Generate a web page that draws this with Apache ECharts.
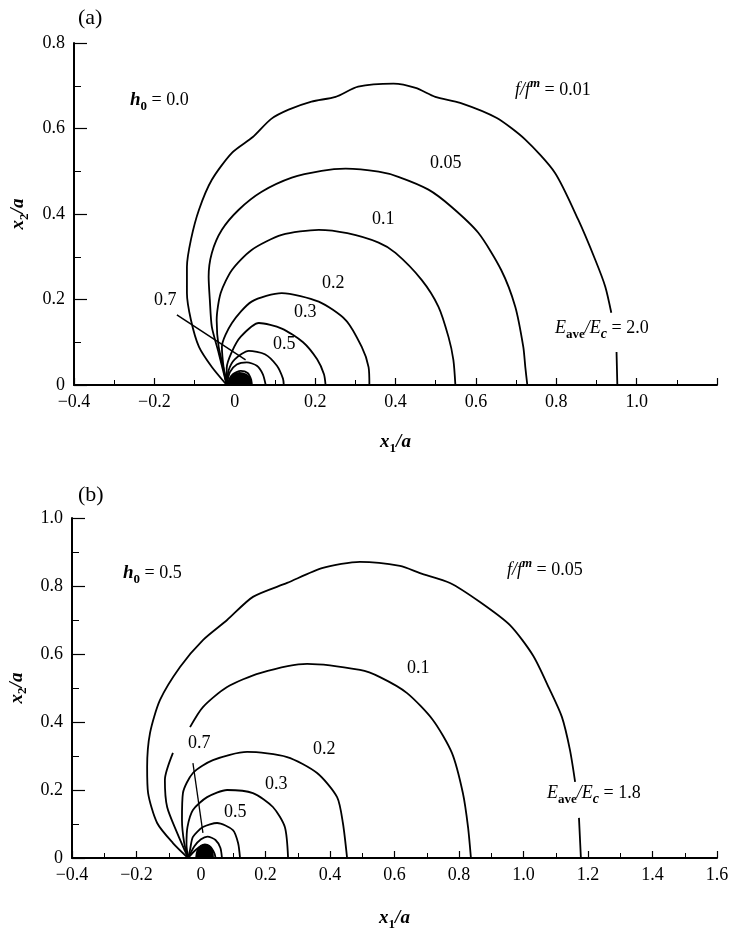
<!DOCTYPE html>
<html>
<head>
<meta charset="utf-8">
<script src="https://cdn.jsdelivr.net/npm/echarts@6/dist/echarts.min.js"></script>
<style>
  html, body { margin: 0; padding: 0; background: #fff; }
  #chart { width: 730px; height: 929px; }
</style>
</head>
<body>
<div id="chart"></div>
<script>
const FONT = '"Liberation Serif", "DejaVu Serif", serif';

// Axis ranges and tick labels
const xTicksA = [-0.4, -0.2, 0, 0.2, 0.4, 0.6, 0.8, 1.0];
const yTicksA = [0, 0.2, 0.4, 0.6, 0.8];
const xTicksB = [-0.4, -0.2, 0, 0.2, 0.4, 0.6, 0.8, 1.0, 1.2, 1.4, 1.6];
const yTicksB = [0, 0.2, 0.4, 0.6, 0.8, 1.0];

// Panel (a): h0 = 0.0, E_ave/E_c = 2.0 — contours of f/f^m in (x1/a, x2/a)
const a_f001 = [[-0.02,0],[-0.057,0.042],[-0.089,0.089],[-0.109,0.152],[-0.119,0.215],[-0.119,0.276],[-0.109,0.34],[-0.089,0.41],[-0.057,0.48],[-0.007,0.543],[0.045,0.58],[0.09,0.622],[0.134,0.644],[0.191,0.663],[0.251,0.674],[0.307,0.698],[0.395,0.705],[0.45,0.695],[0.499,0.674],[0.561,0.66],[0.651,0.625],[0.723,0.574],[0.797,0.496],[0.855,0.386],[0.897,0.293],[0.922,0.23],[0.937,0.169],null,[0.950,0.077],[0.952,0]];
const a_f005 = [[-0.02,0],[-0.04,0.075],[-0.057,0.136],[-0.062,0.199],[-0.065,0.253],[-0.057,0.309],[-0.032,0.363],[0.01,0.41],[0.067,0.452],[0.142,0.485],[0.216,0.501],[0.276,0.506],[0.358,0.499],[0.407,0.487],[0.482,0.457],[0.539,0.417],[0.606,0.356],[0.663,0.269],[0.698,0.183],[0.718,0.089],[0.723,0.042],[0.728,0]];
const a_f01 = [[-0.02,0],[-0.025,0.028],[-0.04,0.089],[-0.045,0.152],[-0.035,0.215],[-0.007,0.269],[0.042,0.316],[0.117,0.351],[0.209,0.363],[0.28,0.355],[0.358,0.333],[0.40,0.309],[0.465,0.246],[0.507,0.183],[0.532,0.112],[0.544,0.059],[0.549,0]];
const a_f02 = [[-0.02,0],[-0.027,0.035],[-0.032,0.089],[-0.007,0.145],[0.042,0.195],[0.117,0.215],[0.209,0.195],[0.276,0.152],[0.316,0.089],[0.333,0.042],[0.335,0]];
const a_f03 = [[-0.02,0],[-0.02,0.04],[-0.007,0.078],[0.015,0.113],[0.06,0.145],[0.117,0.132],[0.17,0.1],[0.205,0.06],[0.222,0.025],[0.226,0]];
const a_f05 = [[-0.02,0],[-0.015,0.035],[0.0,0.06],[0.035,0.08],[0.075,0.072],[0.105,0.045],[0.12,0.015],[0.122,0]];
const a_f07 = [[-0.02,0],[-0.012,0.03],[0.005,0.048],[0.03,0.053],[0.055,0.045],[0.07,0.025],[0.077,0]];
const a_f08 = [[-0.02,0],[-0.005,0.025],[0.015,0.033],[0.032,0.028],[0.041,0.012],[0.042,0]];
const a_core = [[-0.015,0],[-0.012,0.015],[-0.004,0.024],[0.012,0.028],[0.028,0.024],[0.038,0.014],[0.042,0]];
const a_lead07 = [[-0.144,0.164],[0.027,0.059]];

// Panel (b): h0 = 0.5, E_ave/E_c = 1.8
const b_f005 = [[-0.04,0],[-0.087,0.044],[-0.136,0.103],[-0.164,0.191],[-0.167,0.268],[-0.158,0.368],[-0.127,0.465],[-0.065,0.562],[0.006,0.641],[0.081,0.70],[0.161,0.768],[0.267,0.809],[0.378,0.853],[0.493,0.871],[0.617,0.859],[0.679,0.838],[0.772,0.809],[0.865,0.753],[0.958,0.685],[1.03,0.595],[1.08,0.498],[1.119,0.415],[1.144,0.318],[1.16,0.224],null,[1.172,0.118],[1.178,0]];
const b_f01 = [[-0.04,0],[-0.074,0.074],[-0.105,0.15],[-0.112,0.229],[-0.087,0.309],null,[-0.034,0.385],[0.006,0.444],[0.081,0.503],[0.183,0.544],[0.329,0.571],[0.493,0.553],[0.555,0.532],[0.639,0.485],[0.719,0.406],[0.778,0.309],[0.812,0.191],[0.828,0.091],[0.837,0]];
const b_f02 = [[-0.04,0],[-0.052,0.044],[-0.059,0.112],[-0.056,0.191],[-0.025,0.25],[0.037,0.288],[0.143,0.312],[0.267,0.297],[0.36,0.25],[0.422,0.179],[0.44,0.103],[0.453,0]];
const b_f03 = [[-0.04,0],[-0.045,0.04],[-0.042,0.091],[-0.025,0.141],[0.019,0.179],[0.081,0.2],[0.161,0.191],[0.223,0.15],[0.26,0.091],[0.27,0]];
const b_f05 = [[-0.04,0],[-0.034,0.024],[-0.025,0.062],[0.006,0.091],[0.05,0.103],[0.099,0.082],[0.115,0.044],[0.121,0]];
const b_f07 = [[-0.04,0],[-0.02,0.035],[0.0,0.055],[0.02,0.063],[0.045,0.053],[0.06,0.03],[0.065,0]];
const b_f08 = [[-0.04,0],[-0.015,0.025],[0.01,0.038],[0.03,0.032],[0.042,0.013],[0.045,0]];
const b_core = [[-0.015,0],[-0.01,0.025],[0.0,0.036],[0.012,0.04],[0.026,0.035],[0.034,0.022],[0.037,0]];
const b_lead07 = [[-0.025,0.279],[0.006,0.074]];

const rich = {
  i:    { fontFamily: FONT, fontSize: 18, fontStyle: 'italic', color: '#000', lineHeight: 26 },
  ib:   { fontFamily: FONT, fontSize: 19, fontStyle: 'italic', fontWeight: 'bold', color: '#000', lineHeight: 26 },
  n:    { fontFamily: FONT, fontSize: 18, color: '#000', lineHeight: 26 },
  big:  { fontFamily: FONT, fontSize: 22, color: '#000', lineHeight: 26 },
  sub:  { fontFamily: FONT, fontSize: 13, color: '#000', lineHeight: 13, verticalAlign: 'bottom' },
  subb: { fontFamily: FONT, fontSize: 13, fontWeight: 'bold', color: '#000', lineHeight: 13, verticalAlign: 'bottom' },
  subi: { fontFamily: FONT, fontSize: 14, fontStyle: 'italic', fontWeight: 'bold', color: '#000', lineHeight: 13, verticalAlign: 'bottom' },
  sup:  { fontFamily: FONT, fontSize: 13, fontStyle: 'italic', fontWeight: 'bold', color: '#000', lineHeight: 13, verticalAlign: 'top' }
};

function fmt(v) {
  if (Math.abs(v) < 1e-9) return '0';
  return (v < 0 ? '\u2212' : '') + Math.abs(v).toFixed(1);
}

function xAxis(gridIndex, max, shown, nameGap) {
  return {
    type: 'value', gridIndex, min: -0.4, max, interval: 0.2,
    name: '{ib|x}{subb|1}{ib|/a}', nameLocation: 'middle', nameGap,
    nameTextStyle: { rich },
    axisLine: { onZero: false, lineStyle: { color: '#000', width: 2 } },
    axisTick: { inside: true, length: 7, lineStyle: { color: '#000', width: 1.2 } },
    minorTick: { show: true, splitNumber: 2, length: 5, lineStyle: { color: '#000', width: 1 } },
    splitLine: { show: false },
    axisLabel: {
      margin: 8, fontFamily: FONT, fontSize: 18, color: '#000',
      formatter: v => shown.some(t => Math.abs(t - v) < 1e-6) ? fmt(v) : ''
    }
  };
}

function yAxis(gridIndex, max, nameGap) {
  return {
    type: 'value', gridIndex, min: 0, max, interval: 0.2,
    name: '{ib|x}{subb|2}{ib|/a}', nameLocation: 'middle', nameGap, nameRotate: 90,
    nameTextStyle: { rich },
    axisLine: { onZero: false, lineStyle: { color: '#000', width: 2 } },
    axisTick: { inside: true, length: 13, lineStyle: { color: '#000', width: 1.2 } },
    minorTick: { show: true, splitNumber: 2, length: 7, lineStyle: { color: '#000', width: 1 } },
    splitLine: { show: false },
    axisLabel: { margin: 9, fontFamily: FONT, fontSize: 18, color: '#000', formatter: fmt }
  };
}

function curve(data, g, width) {
  return {
    type: 'line', xAxisIndex: g, yAxisIndex: g, data,
    showSymbol: false, smooth: 0.25, connectNulls: false, silent: true,
    lineStyle: { color: '#000', width: width || 1.8 }
  };
}

function core(data, g) {
  return {
    type: 'line', xAxisIndex: g, yAxisIndex: g, data,
    showSymbol: false, smooth: 0.4, silent: true,
    lineStyle: { color: '#000', width: 2 },
    areaStyle: { color: '#000', opacity: 1 }
  };
}

function txt(x, y, text) {
  return {
    type: 'text', x, y, silent: true,
    style: { text, rich, fill: '#000', font: '18px ' + FONT, align: 'left', verticalAlign: 'middle' }
  };
}

const chart = echarts.init(document.getElementById('chart'), null, { renderer: 'canvas' });

chart.setOption({
  backgroundColor: '#fff',
  animation: false,
  grid: [
    { left: 74, top: 43, width: 643, height: 342, outerBoundsMode: 'none', containLabel: false },
    { left: 72, top: 518, width: 645, height: 340, outerBoundsMode: 'none', containLabel: false }
  ],
  xAxis: [xAxis(0, 1.2, xTicksA, 44), xAxis(1, 1.6, xTicksB, 47)],
  yAxis: [yAxis(0, 0.8, 43), yAxis(1, 1.0, 41)],
  series: [
    curve(a_f001, 0), curve(a_f005, 0), curve(a_f01, 0), curve(a_f02, 0),
    curve(a_f03, 0), curve(a_f05, 0), curve(a_f07, 0), curve(a_f08, 0),
    core(a_core, 0), curve(a_lead07, 0, 1.5),
    curve(b_f005, 1), curve(b_f01, 1), curve(b_f02, 1), curve(b_f03, 1),
    curve(b_f05, 1), curve(b_f07, 1), curve(b_f08, 1),
    core(b_core, 1), curve(b_lead07, 1, 1.3)
  ],
  graphic: [
    txt(78, 18, '{big|(a)}'),
    txt(130, 100, '{ib|h}{subb|0}{n| = 0.0}'),
    txt(515, 90, '{i|f/f}{sup|m}{n| = 0.01}'),
    txt(430, 163, '{n|0.05}'),
    txt(372, 219, '{n|0.1}'),
    txt(322, 283, '{n|0.2}'),
    txt(294, 312, '{n|0.3}'),
    txt(273, 344, '{n|0.5}'),
    txt(154, 300, '{n|0.7}'),
    txt(555, 328, '{i|E}{subb|ave}{i|/E}{subi|c}{n| = 2.0}'),

    txt(78, 495, '{big|(b)}'),
    txt(123, 573, '{ib|h}{subb|0}{n| = 0.5}'),
    txt(507, 570, '{i|f/f}{sup|m}{n| = 0.05}'),
    txt(407, 668, '{n|0.1}'),
    txt(313, 749, '{n|0.2}'),
    txt(265, 784, '{n|0.3}'),
    txt(224, 812, '{n|0.5}'),
    txt(188, 743, '{n|0.7}'),
    txt(547, 793, '{i|E}{subb|ave}{i|/E}{subi|c}{n| = 1.8}')
  ]
});
</script>
</body>
</html>
